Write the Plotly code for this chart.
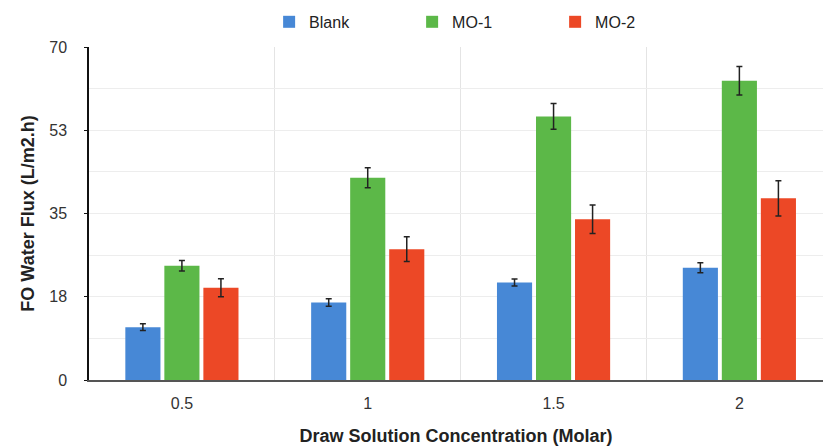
import plotly.graph_objects as go

categories = ["0.5", "1", "1.5", "2"]
positions = [0, 1, 2, 3]
blank = [11.1, 16.3, 20.5, 23.6]
blank_err = [0.7, 0.8, 0.75, 1.05]
mo1 = [24.0, 42.5, 55.4, 62.9]
mo1_err = [1.1, 2.1, 2.7, 3.0]
mo2 = [19.4, 27.5, 33.8, 38.2]
mo2_err = [1.9, 2.6, 3.0, 3.7]
y_tickvals = [0, 17.5, 35, 52.5, 70]
y_ticktext = ["0", "18", "35", "53", "70"]

series = [
    ("Blank", blank, blank_err, "#4788d6"),
    ("MO-1", mo1, mo1_err, "#5cb848"),
    ("MO-2", mo2, mo2_err, "#ec4826"),
]

fig = go.Figure()
for name, vals, errs, color in series:
    fig.add_trace(go.Bar(
        name=name, x=positions, y=vals,
        marker=dict(color=color, line=dict(width=0)),
        error_y=dict(type="data", array=errs, visible=True,
                     color="#222222", thickness=1.5, width=3),
    ))

font_family = "Liberation Sans, Arial, Helvetica, sans-serif"
fig.update_layout(
    width=823, height=447,
    margin=dict(l=89, r=0, t=47, b=67, autoexpand=False),
    paper_bgcolor="white", plot_bgcolor="white",
    barmode="group", bargap=0.37, bargroupgap=0.1,
    font=dict(family=font_family, size=16, color="#333333"),
    showlegend=True,
    legend=dict(orientation="h", xref="container", yref="container",
                x=0.327, xanchor="left", y=0.951, yanchor="middle",
                font=dict(size=16, color="#222222"), entrywidth=98,
                itemwidth=30, bgcolor="rgba(0,0,0,0)"),
    xaxis=dict(
        range=[-0.5, 3.45], tickvals=positions, ticktext=categories,
        showgrid=False, zeroline=False, showline=True, linecolor="#555555", linewidth=2,
        ticks="", ticklabelstandoff=8, automargin=False,
        minor=dict(tickvals=[0.5, 1.5, 2.5], showgrid=True, gridcolor="#e4e4e4", gridwidth=1, ticks=""),
        title=dict(text="<b>Draw Solution Concentration (Molar)</b>", font=dict(size=18, color="#222222"), standoff=18),
        tickfont=dict(size=16, color="#333333"),
    ),
    yaxis=dict(
        range=[0, 70], tickvals=y_tickvals, ticktext=y_ticktext,
        showgrid=True, gridcolor="#ededed", gridwidth=1,
        minor=dict(tickvals=[8.75, 26.25, 43.75, 61.25], showgrid=True, gridcolor="#ededed", gridwidth=1, ticks=""),
        zeroline=False, showline=True, linecolor="#111111", linewidth=1.5,
        ticks="outside", ticklen=3, tickcolor="#111111", ticklabelstandoff=14,
        automargin=False,
        title=dict(text="<b>FO Water Flux (L/m2.h)</b>", font=dict(size=18, color="#222222"), standoff=10),
        tickfont=dict(size=16, color="#333333"),
    ),
)

fig.write_html("out.html", config={"displayModeBar": False},
               post_script="document.body.style.margin='0';document.body.style.overflow='hidden';")
